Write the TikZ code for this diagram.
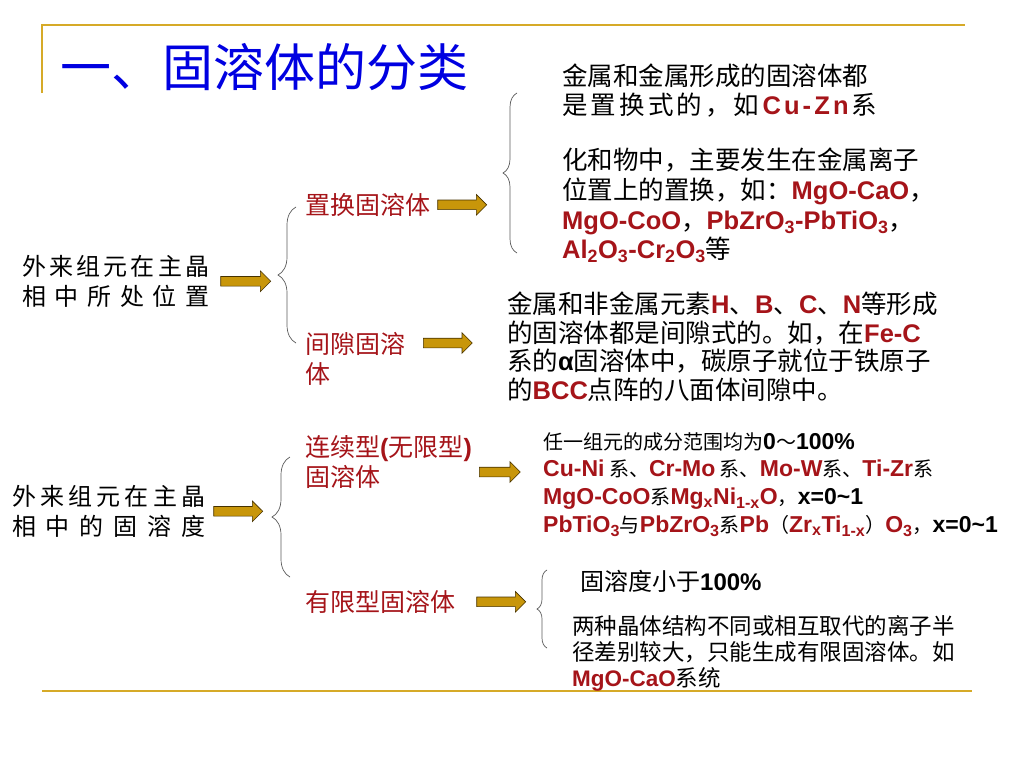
\documentclass[tikz,border=0pt]{standalone}
\usepackage{fontspec}
\setmainfont{Noto Sans CJK SC}
\newfontfamily\arial{Liberation Sans}
\newfontfamily\arialx[Scale=1.15]{Liberation Sans}
\usetikzlibrary{positioning, shapes.arrows, decorations.pathreplacing}

\definecolor{titleblue}{RGB}{0,0,225}
\definecolor{labelred}{RGB}{165,20,25}
\definecolor{goldline}{RGB}{214,170,40}
\definecolor{goldfill}{RGB}{200,150,10}
\definecolor{golddraw}{RGB}{70,50,0}
\definecolor{bracegray}{RGB}{90,90,90}

\newcommand{\chem}[1]{{\arial\bfseries\color{labelred}#1}}
\newcommand{\bnum}[1]{{\arial\bfseries #1}}
\newcommand{\chemx}[1]{{\arialx\bfseries\color{labelred}#1}}
\newcommand{\bnumx}[1]{{\arialx\bfseries #1}}

\begin{document}
\begin{tikzpicture}[x=1pt, y=-1pt]
    \tikzstyle{goldrule} = [draw=goldline, line width=2.5pt]
    \tikzstyle{headline} = [anchor=north west, inner sep=0pt, text=titleblue, font=\fontsize{51}{56}\selectfont]
    \tikzstyle{topic} = [anchor=north west, inner sep=0pt, align=left, font=\fontsize{24}{30}\selectfont]
    \tikzstyle{kind} = [anchor=north west, inner sep=0pt, align=left, text=labelred, font=\fontsize{25}{30}\selectfont]
    \tikzstyle{note} = [anchor=north west, inner sep=0pt, align=left, font=\fontsize{25.5}{28.5}\selectfont]
    \tikzstyle{goldarrow} = [single arrow, draw=golddraw, fill=goldfill, line width=0.6pt, inner sep=4.5pt, single arrow head extend=5.5pt, minimum height=49pt]
    \tikzstyle{bracket} = [decorate, decoration={brace, amplitude=18pt}, draw=bracegray, line width=0.7pt]

    \useasboundingbox (0,0) rectangle (1024,768);
    \draw [goldrule] (42,93) -- (42,25) -- (965,25);
    \draw [goldrule] (42,691) -- (972,691);

    \node (title) [headline] at (60,43) {一、固溶体的分类};

    \node (posq) [topic] at (22,255) {\makebox[187pt][s]{外\hfill 来\hfill 组\hfill 元\hfill 在\hfill 主\hfill 晶}\\
        \makebox[187pt][s]{相\hfill 中\hfill 所\hfill 处\hfill 位\hfill 置}};
    \node (solq) [topic] at (12,485) {\makebox[193pt][s]{外\hfill 来\hfill 组\hfill 元\hfill 在\hfill 主\hfill 晶}\\
        \makebox[193pt][s]{相\hfill 中\hfill 的\hfill 固\hfill 溶\hfill 度}};

    \node (subst) [kind] at (305,193) {置换固溶体};
    \node (inter) [kind] at (305,332) {间隙固溶\\体};
    \node (cont) [kind] at (305,435) {连续型\chem{(}无限型\chem{)}\\固溶体};
    \node (limit) [kind] at (305,590) {有限型固溶体};

    \node (arrposq) [goldarrow, minimum height=50pt, right=11pt of posq] {};
    \node (arrsolq) [goldarrow, right=8pt of solq] {};
    \node (arrsubst) [goldarrow, right=7pt of subst] {};
    \node (arrinter) [goldarrow, anchor=west] at (423,343) {};
    \node (arrcont) [goldarrow, minimum height=41pt, anchor=west] at (479,472) {};
    \node (arrlimit) [goldarrow, right=21pt of limit] {};

    \draw [bracket] (296,343) -- (296,207);
    \draw [bracket, decoration={amplitude=14pt}] (517,253) -- (517,93);
    \draw [bracket] (290,577) -- (290,457);
    \draw [bracket, decoration={amplitude=10pt}] (547,648) -- (547,570);

    \node (substa) [note] at (562,64) {金属和金属形成的固溶体都\\
        \makebox[315pt][s]{是\hfill 置\hfill 换\hfill 式\hfill 的\hfill ，\hfill 如\hfill \chem{C}\hfill \chem{u}\hfill \chem{-}\hfill \chem{Z}\hfill \chem{n}\hfill 系}};
    \node (substb) [note, font=\fontsize{25.5}{29.7}\selectfont] at (562,148) {化和物中，主要发生在金属离子\\
        位置上的置换，如：\chem{MgO-CaO}，\\
        \chem{MgO-CoO}，\chem{PbZrO\textsubscript{3}-PbTiO\textsubscript{3}}，\\
        \chem{Al\textsubscript{2}O\textsubscript{3}-Cr\textsubscript{2}O\textsubscript{3}}等};
    \node (internote) [note] at (507,292) {金属和非金属元素\chem{H}、\chem{B}、\chem{C}、\chem{N}等形成\\
        的固溶体都是间隙式的。如，在\chem{Fe-C}\\
        系的\bnum{α}固溶体中，碳原子就位于铁原子\\
        的\chem{BCC}点阵的八面体间隙中。};
    \node (contnote) [note, font=\fontsize{20}{27.7}\selectfont] at (543,432) {任一组元的成分范围均为\bnumx{0}～\bnumx{100\%}\\
        \chemx{Cu-Ni} 系、\chemx{Cr-Mo} 系、\chemx{Mo-W}系、\chemx{Ti-Zr}系\\
        \chemx{MgO-CoO}系\chemx{Mg\textsubscript{x}Ni\textsubscript{1-x}O}，\bnumx{x=0\textasciitilde 1}\\
        \chemx{PbTiO\textsubscript{3}}与\chemx{PbZrO\textsubscript{3}}系\chemx{Pb}（\chemx{Zr\textsubscript{x}Ti\textsubscript{1-x}}）\chemx{O\textsubscript{3}}，\bnumx{x=0\textasciitilde 1}};
    \node (limita) [note, font=\fontsize{24}{28}\selectfont] at (580,570) {固溶度小于\bnum{100\%}};
    \node (limitb) [note, font=\fontsize{22.5}{26}\selectfont] at (572,615) {两种晶体结构不同或相互取代的离子半\\
        径差别较大，只能生成有限固溶体。如\\
        \chem{MgO-CaO}系统};
\end{tikzpicture}
\end{document}
